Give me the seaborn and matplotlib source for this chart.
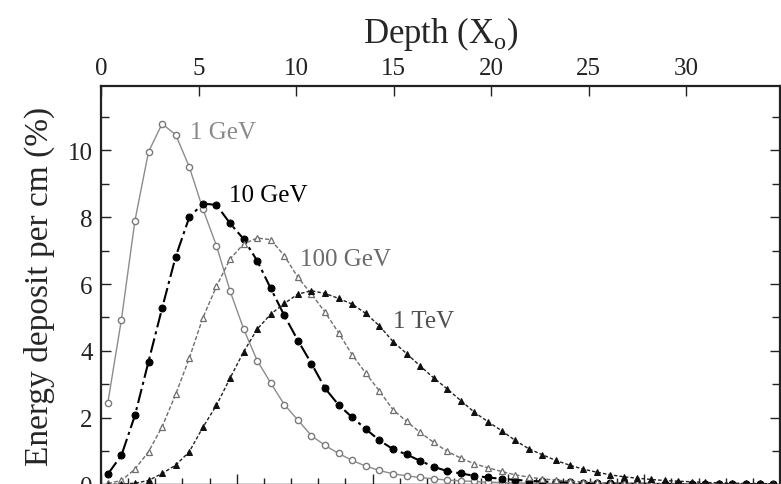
import matplotlib
matplotlib.use("Agg")
import matplotlib.pyplot as plt
from matplotlib.ticker import MultipleLocator, NullFormatter
import numpy as np
import seaborn as sns

# sampling depth (cm of copper), one point per cm
depth_cm = np.arange(50) + 0.5
X0_CM = 1.436   # radiation length of copper in cm

e_1gev = [2.44, 4.93, 7.90, 9.96, 10.80, 10.47, 9.51, 8.25, 7.15, 5.80,
          4.66, 3.71, 3.04, 2.39, 1.93, 1.46, 1.17, 0.93, 0.72, 0.55,
          0.42, 0.32, 0.26, 0.21, 0.17, 0.13, 0.11, 0.09, 0.07, 0.06,
          0.05, 0.04, 0.035, 0.03, 0.025, 0.02, 0.02, 0.015, 0.015, 0.01,
          0.01, 0.01, 0.01, 0.01, 0.01, 0.01, 0.01, 0.01, 0.01, 0.01]
e_10gev = [0.31, 0.87, 2.07, 3.68, 5.28, 6.82, 8.00, 8.41, 8.37, 7.82,
           7.35, 6.70, 5.87, 5.06, 4.31, 3.62, 2.88, 2.38, 2.01, 1.66,
           1.32, 1.06, 0.90, 0.71, 0.53, 0.40, 0.33, 0.26, 0.21, 0.17,
           0.14, 0.11, 0.09, 0.07, 0.06, 0.05, 0.04, 0.035, 0.03, 0.025,
           0.02, 0.02, 0.015, 0.015, 0.01, 0.01, 0.01, 0.01, 0.01, 0.01]
e_100gev = [0.03, 0.12, 0.46, 0.98, 1.73, 2.70, 3.78, 4.99, 5.93, 6.75,
            7.20, 7.38, 7.33, 6.85, 6.20, 5.70, 5.16, 4.54, 3.88, 3.33,
            2.80, 2.24, 1.89, 1.56, 1.26, 0.99, 0.79, 0.62, 0.50, 0.39,
            0.29, 0.22, 0.17, 0.13, 0.10, 0.08, 0.06, 0.05, 0.04, 0.035,
            0.03, 0.025, 0.02, 0.02, 0.015, 0.015, 0.01, 0.01, 0.01, 0.01]
e_1tev = [0.00, 0.01, 0.04, 0.12, 0.33, 0.58, 0.98, 1.71, 2.37, 3.18,
          3.97, 4.65, 5.10, 5.42, 5.70, 5.80, 5.72, 5.57, 5.40, 5.12,
          4.75, 4.28, 3.92, 3.55, 3.19, 2.86, 2.51, 2.16, 1.88, 1.61,
          1.32, 1.07, 0.89, 0.72, 0.58, 0.46, 0.37, 0.29, 0.23, 0.19,
          0.15, 0.12, 0.10, 0.08, 0.06, 0.05, 0.04, 0.03, 0.03, 0.02]

labels = ["1 GeV", "10 GeV", "100 GeV", "1 TeV"]

sns.set_theme(style="ticks")
plt.rcParams["font.family"] = ["Liberation Serif", "DejaVu Serif"]
plt.rcParams["mathtext.fontset"] = "custom"
plt.rcParams["mathtext.rm"] = "Liberation Serif"

fig = plt.figure(figsize=(7.81, 4.85), dpi=100)
ax = fig.add_axes([101 / 781, -0.5 / 485, 679 / 781, 398.5 / 485])

depth_x0 = depth_cm / X0_CM

sns.lineplot(x=depth_x0, y=e_1gev, ax=ax, color="#8c8c8c", lw=1.0,
             marker="o", markersize=4.5, markerfacecolor="white",
             markeredgecolor="#7a7a7a", markeredgewidth=1.0, legend=False)
sns.lineplot(x=depth_x0, y=e_10gev, ax=ax, color="black", lw=1.5,
             linestyle=(0, (7, 2, 1.5, 2)), marker="o", markersize=5,
             markerfacecolor="black", markeredgecolor="black", legend=False)
sns.lineplot(x=depth_x0, y=e_100gev, ax=ax, color="#6e6e6e", lw=1.0,
             linestyle=(0, (3, 1.5)), marker="^", markersize=4,
             markerfacecolor="white", markeredgecolor="#6e6e6e",
             markeredgewidth=0.9, legend=False)
sns.lineplot(x=depth_x0, y=e_1tev, ax=ax, color="#222222", lw=1.0,
             linestyle=(0, (2.5, 1.5)), marker="^", markersize=3.8,
             markerfacecolor="#111111", markeredgecolor="#111111",
             legend=False)

ax.text(4.55, 10.55, labels[0], color="#8a8a8a", fontsize=18, va="center")
ax.text(6.55, 8.67, labels[1], color="black", fontsize=18, va="center")
ax.text(10.2, 6.75, labels[2], color="#6a6a6a", fontsize=18, va="center")
ax.text(14.95, 4.9, labels[3], color="#505050", fontsize=18, va="center")

ax.set_xlim(0, 50 / X0_CM)
ax.set_ylim(0, 11.93)

ax.xaxis.tick_top()
ax.xaxis.set_label_position("top")
ax.xaxis.set_major_locator(MultipleLocator(5))
ax.yaxis.set_major_locator(MultipleLocator(2))
ax.yaxis.set_minor_locator(MultipleLocator(1))
ax.set_xlabel("Depth (X$_\\mathrm{o}$)", fontsize=25, labelpad=11)
ax.set_ylabel("Energy deposit per cm (%)", fontsize=24, labelpad=9)

ax.tick_params(axis="both", which="both", direction="in", colors="#222222",
               labelsize=18, width=1.0)
ax.tick_params(axis="x", which="major", length=7, pad=5, top=True, bottom=False)
ax.tick_params(axis="y", which="major", length=7, pad=6, right=True)
ax.tick_params(axis="y", which="minor", length=6, right=True)
for s in ax.spines.values():
    s.set_linewidth(1.6)
    s.set_color("#222222")

# bottom axis in cm, labels fall outside the cropped picture
sec = ax.secondary_xaxis("bottom", functions=(lambda x: x * X0_CM, lambda c: c / X0_CM))
sec.xaxis.set_major_locator(MultipleLocator(10))
sec.xaxis.set_minor_locator(MultipleLocator(2))
sec.xaxis.set_major_formatter(NullFormatter())
sec.tick_params(which="both", direction="in", colors="#222222", width=1.0)
sec.tick_params(which="major", length=8)
sec.tick_params(which="minor", length=5)
sec.spines["bottom"].set_linewidth(1.6)

fig.savefig("out.png", dpi=100)
